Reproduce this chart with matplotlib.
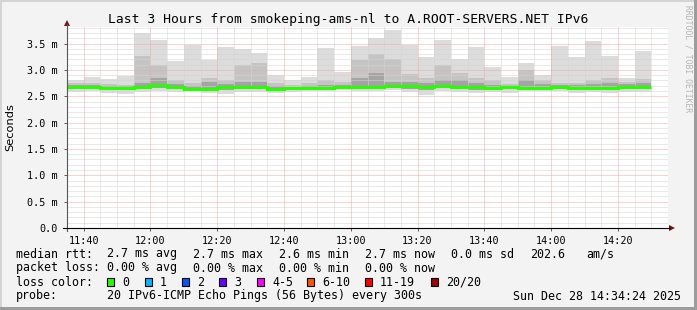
"""SmokePing style latency chart: smokeping-ams-nl -> A.ROOT-SERVERS.NET IPv6."""
import matplotlib
matplotlib.use('Agg')
import matplotlib.pyplot as plt
import numpy as np
from matplotlib.patches import Rectangle, Polygon
from matplotlib.lines import Line2D

W,H=697,310
MONO='DejaVu Sans Mono'

# 5-minute slots, minutes since midnight of slot start (11:35 .. 14:25)
slot_start=[695,700,705,710,715,720,725,730,735,740,745,750,755,760,765,770,775,780,
            785,790,795,800,805,810,815,820,825,830,835,840,845,850,855,860,865]
# rtt quantiles per slot in ms
rtt_max=[2.80,2.86,2.83,2.88,3.70,3.57,3.16,3.48,3.18,3.43,3.40,3.32,2.91,2.80,2.86,3.41,2.96,3.45,
         3.60,3.76,3.47,3.24,3.57,3.21,3.43,3.05,2.86,3.13,2.91,3.45,3.24,3.55,3.26,2.85,3.35]
rtt_p90=[2.76,2.75,2.74,2.72,3.27,3.10,2.80,2.76,2.85,2.80,3.10,3.14,2.75,2.72,2.76,2.80,2.78,3.18,
         3.31,3.21,2.93,2.85,3.10,2.94,2.85,2.80,2.74,3.00,2.80,2.76,2.76,2.80,2.84,2.78,2.82]
rtt_hi=[2.72,2.71,2.70,2.69,2.76,2.84,2.74,2.70,2.78,2.74,2.78,2.78,2.70,2.68,2.70,2.72,2.72,2.85,
        2.95,2.77,2.78,2.75,2.80,2.80,2.75,2.72,2.70,2.80,2.73,2.72,2.71,2.74,2.76,2.73,2.75]
rtt_med=[2.67,2.68,2.65,2.65,2.68,2.71,2.67,2.64,2.63,2.68,2.67,2.68,2.64,2.65,2.66,2.66,2.68,2.68,
         2.68,2.70,2.69,2.67,2.69,2.68,2.67,2.65,2.67,2.66,2.66,2.68,2.65,2.65,2.66,2.68,2.67]
rtt_lo=[2.63,2.64,2.61,2.61,2.63,2.65,2.63,2.61,2.60,2.62,2.63,2.64,2.60,2.62,2.63,2.63,2.64,2.64,
        2.64,2.66,2.64,2.61,2.65,2.64,2.62,2.62,2.63,2.62,2.63,2.64,2.62,2.62,2.62,2.64,2.63]
rtt_min=[2.59,2.60,2.57,2.55,2.58,2.60,2.59,2.60,2.56,2.54,2.59,2.59,2.56,2.59,2.60,2.60,2.61,2.60,
         2.60,2.62,2.59,2.53,2.60,2.59,2.56,2.58,2.56,2.60,2.60,2.60,2.57,2.58,2.57,2.58,2.58]

x_ticks=[700,720,740,760,780,800,820,840,860]
x_labels=['11:40','12:00','12:20','12:40','13:00','13:20','13:40','14:00','14:20']
y_ticks=[0.0,0.5,1.0,1.5,2.0,2.5,3.0,3.5]
y_labels=['0.0','0.5 m','1.0 m','1.5 m','2.0 m','2.5 m','3.0 m','3.5 m']

loss_labels=['0','1','2','3','4-5','6-10','11-19','20/20']
loss_colors=['#26ff00','#00b8ff','#0059ff','#6a00ff','#ff00ff','#ff5500','#ff0000','#a00000']
loss_box_x=[107,145,182,219,257,307,365,431]

stats_rows=[
    ('median rtt:',['2.7 ms avg','2.7 ms max','2.6 ms min','2.7 ms now','0.0 ms sd','202.6','am/s']),
    ('packet loss:',['0.00 % avg','0.00 % max','0.00 % min','0.00 % now']),
]
stats_x=[107,193,279,365,451,530,586]


def fx(x):return x/W
def fy(y):return 1-y/H


fig=plt.figure(figsize=(W/100,H/100),dpi=100,facecolor='#f3f3f3')
# frame: light top/left, dark bottom/right
for x,y,w,h,c in [(0,0,W,2,'#d4d4d4'),(0,0,2,H,'#d4d4d4'),(0,H-3,W,3,'#9c9c9c'),(W-3,0,3,H,'#9c9c9c')]:
    fig.add_artist(Rectangle((fx(x),fy(y+h)),w/W,h/H,transform=fig.transFigure,color=c,lw=0))

ax=fig.add_axes([fx(67),fy(228),(668-67)/W,(228-26.7)/H])
ax.set_facecolor('white')
edges=np.append(slot_start,slot_start[-1]+5)
ax.stairs(rtt_max,edges,baseline=rtt_min,fill=True,color='#dcdcdc',lw=0,zorder=1)
ax.stairs(rtt_p90,edges,baseline=rtt_lo,fill=True,color='#c4c4c4',lw=0,zorder=1.1)
ax.stairs(rtt_hi,edges,baseline=rtt_lo,fill=True,color='#a4a4a4',lw=0,zorder=1.2)
med=np.array(rtt_med)
ax.stairs(med+0.02,edges,baseline=med-0.01,fill=True,color='#787878',lw=0,zorder=1.3)
ax.stairs(rtt_med,edges,baseline=None,color='#26ff00',lw=2.2,zorder=4)

ax.set_xlim(695,875);ax.set_ylim(0,3.82)
ax.set_xticks(x_ticks,x_labels,fontfamily=MONO,fontsize=7.3)
ax.set_yticks(y_ticks,y_labels,fontfamily=MONO,fontsize=7.3)
ax.tick_params(length=2,width=.6,color='#444444',pad=4)
ax.tick_params(axis='y',pad=5)
for s in ax.spines.values():s.set_visible(False)

# dotted grid over the smoke: grey every 5 min / 0.1 ms, red every 20 min / 0.5 ms
dots=(0,(1,1))
for t in range(695,876,5):
    major=t in x_ticks
    ax.axvline(t,color='#f0a8a8' if major else '#d4d4d4',lw=.72,ls=dots,zorder=2.6 if major else 2.5)
for k in range(1,39):
    v=k/10;major=k%5==0
    ax.axhline(v,color='#f0a8a8' if major else '#d4d4d4',lw=.72,ls=dots,zorder=2.6 if major else 2.5)

# axes lines with arrows
fig.add_artist(Line2D([fx(67),fx(67)],[fy(231),fy(24)],transform=fig.transFigure,color='#555555',lw=.8))
fig.add_artist(Line2D([fx(63),fx(670)],[fy(228),fy(228)],transform=fig.transFigure,color='black',lw=.8))
fig.add_artist(Polygon([(fx(64),fy(26)),(fx(70),fy(26)),(fx(67),fy(20))],closed=True,transform=fig.transFigure,color='#7a1010',lw=0))
fig.add_artist(Polygon([(fx(669),fy(225)),(fx(669),fy(231)),(fx(675),fy(228))],closed=True,transform=fig.transFigure,color='#7a1010',lw=0))

fig.text(fx(348),fy(19),'Last 3 Hours from smokeping-ams-nl to A.ROOT-SERVERS.NET IPv6',
         ha='center',va='center',fontfamily=MONO,fontsize=9.4)
fig.text(fx(10),fy(127),'Seconds',rotation=90,ha='center',va='center',fontfamily='DejaVu Sans',fontsize=8.2)
fig.text(fx(688),fy(5),'RRDTOOL / TOBI OETIKER',rotation=270,ha='center',va='top',
         fontfamily=MONO,fontsize=5.8,color='#b4b4b4')

# legend block
row_y=[254,268,282,296]
for (label,items),y in zip(stats_rows,row_y):
    fig.text(fx(16),fy(y),label,va='center',fontfamily=MONO,fontsize=8.4)
    for s,x in zip(items,stats_x):fig.text(fx(x),fy(y),s,va='center',fontfamily=MONO,fontsize=8.4)
fig.text(fx(16),fy(282),'loss color:',va='center',fontfamily=MONO,fontsize=8.4)
for lab,col,x in zip(loss_labels,loss_colors,loss_box_x):
    fig.add_artist(Rectangle((fx(x),fy(286)),7/W,8/H,transform=fig.transFigure,facecolor=col,edgecolor='black',lw=.8))
    fig.text(fx(x+15),fy(282),lab,va='center',fontfamily=MONO,fontsize=8.4)
fig.text(fx(16),fy(296),'probe:',va='center',fontfamily=MONO,fontsize=8.4)
fig.text(fx(107),fy(296),'20 IPv6-ICMP Echo Pings (56 Bytes) every 300s',va='center',fontfamily=MONO,fontsize=8.4)
fig.text(fx(681),fy(296),'Sun Dec 28 14:34:24 2025',ha='right',va='center',fontfamily=MONO,fontsize=8.4)

fig.savefig('out.png',dpi=100,facecolor=fig.get_facecolor())
